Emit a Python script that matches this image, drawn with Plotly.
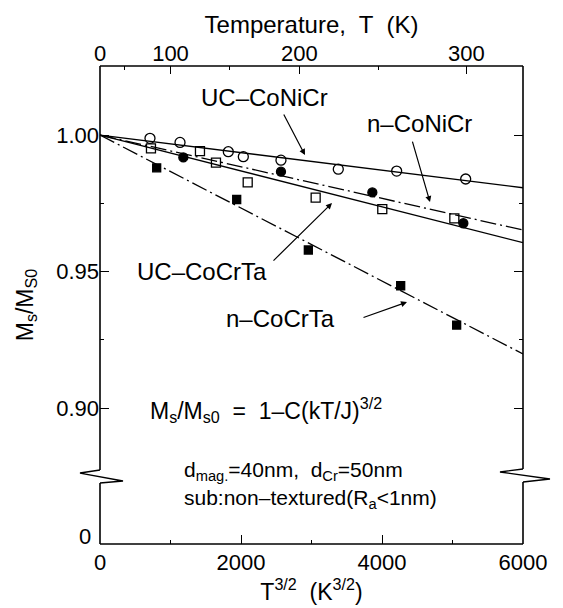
import plotly.graph_objects as go

# ---------------- data ----------------
uc_conicr_x = [709, 1135, 1820, 2033, 2567, 3380, 4208, 5187]
uc_conicr_y = [0.9988, 0.9973, 0.9939, 0.9921, 0.9908, 0.9875, 0.9868, 0.9839]
n_conicr_x = [1182, 2567, 3863, 5154]
n_conicr_y = [0.9918, 0.9866, 0.9790, 0.9677]
uc_cocrta_x = [723, 1418, 1645, 2095, 3059, 4004, 5026]
uc_cocrta_y = [0.9951, 0.9941, 0.9899, 0.9827, 0.9771, 0.9729, 0.9695]
n_cocrta_x = [804, 1939, 2955, 4265, 5059]
n_cocrta_y = [0.9880, 0.9764, 0.9579, 0.9448, 0.9304]

fit_x = [0, 6000]
fit_uc_conicr = [1.0, 0.9807]
fit_n_conicr = [1.0, 0.9652]
fit_uc_cocrta = [1.0, 0.9606]
fit_n_cocrta = [1.0, 0.9198]

x_ticks = [0, 2000, 4000, 6000]
x_minor = [1000, 3000, 5000]
y_ticks = [0.90, 0.95, 1.00]
y_ticklabels = ["0.90", "0.95", "1.00"]
y_zero_label = "0"
y_minor = [0.925, 0.975]
temp_ticks = [0, 100, 200, 300]
temp_minor = [50, 150, 250]

FONT = "Liberation Sans, Arial, sans-serif"
W, H = 563, 608
L, R, T, B = 100, 40, 66, 64
PW, PH = W - L - R, H - T - B


def px(xp):
    return (xp - L) / PW


def py(yp):
    return (H - B - yp) / PH


fig = go.Figure()

DASHDOT = "16px,4px,2px,4px"
line_specs = [
    (fit_uc_conicr, "solid"),
    (fit_n_conicr, DASHDOT),
    (fit_uc_cocrta, "solid"),
    (fit_n_cocrta, DASHDOT),
]
for ys, dash in line_specs:
    fig.add_trace(go.Scatter(x=fit_x, y=ys, mode="lines",
                             line=dict(color="black", width=1.3, dash=dash),
                             showlegend=False, hoverinfo="skip"))

mk = [
    (uc_conicr_x, uc_conicr_y, "circle-open", "UC-CoNiCr", 10),
    (n_conicr_x, n_conicr_y, "circle", "n-CoNiCr", 9),
    (uc_cocrta_x, uc_cocrta_y, "square-open", "UC-CoCrTa", 9),
    (n_cocrta_x, n_cocrta_y, "square", "n-CoCrTa", 8),
]
for xs, ys, sym, name, sz in mk:
    fig.add_trace(go.Scatter(x=xs, y=ys, mode="markers", name=name,
                             marker=dict(symbol=sym, size=sz, color="black",
                                         line=dict(color="black", width=1.3)),
                             showlegend=False))

fig.add_trace(go.Scatter(x=[0, 6000], y=[None, None], xaxis="x2", mode="lines",
                         showlegend=False, hoverinfo="skip"))

lw = 1.6
shapes = []
shapes.append(dict(type="line", xref="paper", yref="paper", x0=0, x1=1, y0=0, y1=0,
                   line=dict(color="black", width=lw)))
shapes.append(dict(type="line", xref="paper", yref="paper", x0=0, x1=1, y0=1, y1=1,
                   line=dict(color="black", width=lw)))
shapes.append(dict(type="line", xref="paper", yref="paper", x0=0, x1=0, y0=0, y1=py(483),
                   line=dict(color="black", width=lw)))
shapes.append(dict(type="line", xref="paper", yref="paper", x0=0, x1=0, y0=py(470), y1=1,
                   line=dict(color="black", width=lw)))
shapes.append(dict(type="line", xref="paper", yref="paper", x0=1, x1=1, y0=0, y1=py(482),
                   line=dict(color="black", width=lw)))
shapes.append(dict(type="line", xref="paper", yref="paper", x0=1, x1=1, y0=py(469), y1=1,
                   line=dict(color="black", width=lw)))
left_pts = [(100, 470), (80, 473), (123, 481), (100, 483)]
right_pts = [(523, 469), (500, 472), (550, 479), (523, 482)]
for pts in (left_pts, right_pts):
    path = "M " + " L ".join(f"{px(a):.4f},{py(b):.4f}" for a, b in pts)
    shapes.append(dict(type="path", xref="paper", yref="paper", path=path,
                       line=dict(color="black", width=1.3)))

fig.update_layout(shapes=shapes)


def dx(xp):
    return (xp - L) / PW * 6000


def dy(yp):
    return 1.0 - (yp - 135) / 2730.0


labels = [
    ("UC–CoNiCr", 264, 97),
    ("n–CoNiCr", 419, 123),
    ("UC–CoCrTa", 202, 271),
    ("n–CoCrTa", 280, 318),
]
for txt, xp, yp in labels:
    fig.add_annotation(x=dx(xp), y=dy(yp), text=txt, showarrow=False,
                       font=dict(family=FONT, size=24, color="black"))

arrows = [
    ((283, 113), (305, 155)),
    ((412, 140), (430, 202)),
    ((272, 262), (332, 203)),
    ((362, 318), (407, 302)),
]
for (tx, ty), (hx, hy) in arrows:
    fig.add_annotation(x=dx(hx), y=dy(hy), ax=tx - hx, ay=ty - hy, text="",
                       showarrow=True, arrowhead=2, arrowsize=1, arrowwidth=1.2,
                       arrowcolor="black")

fig.add_annotation(x=dx(266), y=dy(410),
                   text="M<sub>s</sub>/M<sub>s0</sub>  =  1–C(kT/J)<sup>3/2</sup>",
                   showarrow=False, font=dict(family=FONT, size=23, color="black"))
fig.add_annotation(x=dx(182), y=dy(471), xanchor="left", yanchor="middle",
                   text="d<sub>mag.</sub>=40nm,  d<sub>Cr</sub>=50nm",
                   showarrow=False, font=dict(family=FONT, size=21, color="black"))
fig.add_annotation(x=dx(182), y=dy(499), xanchor="left", yanchor="middle",
                   text="sub:non–textured(R<sub>a</sub>&lt;1nm)",
                   showarrow=False, font=dict(family=FONT, size=21, color="black"))
# y-axis "0" label of the broken axis (sits just above the bottom corner)
fig.add_annotation(xref="paper", yref="paper", x=px(93), y=py(536), xanchor="right",
                   yanchor="middle", text=y_zero_label, showarrow=False,
                   font=dict(family=FONT, size=22, color="black"))

fig.update_layout(
    width=W, height=H,
    margin=dict(l=L, r=R, t=T, b=B),
    paper_bgcolor="white", plot_bgcolor="white",
    font=dict(family=FONT, size=22, color="black"),
    xaxis=dict(range=[0, 6000], tickvals=x_ticks, ticktext=[str(v) for v in x_ticks],
               ticks="inside", ticklen=9, tickwidth=1.3, tickcolor="black",
               ticklabelstandoff=3,
               minor=dict(tickvals=x_minor, ticks="inside", ticklen=4, tickcolor="black"),
               showgrid=False, zeroline=False, showline=False,
               title=dict(text="T<sup>3/2</sup>  (K<sup>3/2</sup>)", standoff=0,
                          font=dict(size=23))),
    xaxis2=dict(range=[0, 6000], overlaying="x", side="top", anchor="y",
                tickvals=[t ** 1.5 for t in temp_ticks], ticktext=[str(t) for t in temp_ticks],
                ticks="inside", ticklen=8, tickwidth=1.3, tickcolor="black",
                minor=dict(tickvals=[t ** 1.5 for t in temp_minor], ticks="inside",
                           ticklen=4, tickcolor="black"),
                showgrid=False, zeroline=False, showline=False,
                title=dict(text="Temperature,  T  (K)", standoff=0, font=dict(size=24))),
    yaxis=dict(range=[0.8502, 1.0253], tickvals=y_ticks, ticktext=y_ticklabels,
               ticks="inside", ticklen=9, tickwidth=1.3, tickcolor="black", mirror="ticks",
               minor=dict(tickvals=y_minor, ticks="inside", ticklen=4, tickcolor="black"),
               showgrid=False, zeroline=False, showline=False,
               title=dict(text="M<sub>s</sub>/M<sub>S0</sub>", standoff=16, font=dict(size=23))),
)

fig.write_html("out.html")
